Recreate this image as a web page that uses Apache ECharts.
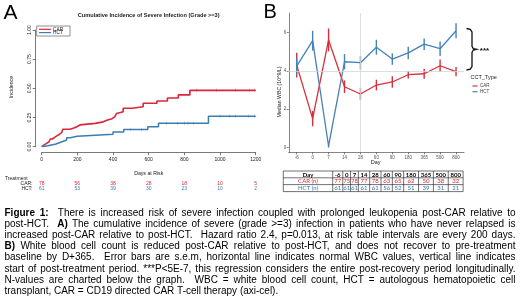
<!DOCTYPE html>
<html><head><meta charset="utf-8">
<script src="https://cdn.jsdelivr.net/npm/echarts@6/dist/echarts.min.js"></script>
<style>html,body{margin:0;padding:0;background:#fff}#c{width:520px;height:306px}</style>
</head><body><div id="c"></div>
<script>
// ---------- Panel A : cumulative incidence (step curves) ----------
const carTimes = [0,3,12,25,40,48,60,72,85,100,112,118,160,180,200,215,300,345,365,395,410,420,430,457,507,569,646,705,766,831,1200];
const carCI    = [0,0.013,0.026,0.04,0.053,0.066,0.08,0.093,0.107,0.12,0.133,0.15,0.16,0.173,0.187,0.2,0.213,0.227,0.24,0.257,0.27,0.285,0.3,0.33,0.343,0.372,0.392,0.417,0.444,0.483,0.483];
const hctTimes = [0,10,35,80,110,140,160,200,400,460,595,655,935,1200];
const hctCI    = [0,0.008,0.023,0.04,0.057,0.077,0.09,0.106,0.125,0.148,0.171,0.2,0.26,0.26];
const carCensor = [870,980,1085,1165,1192];
const hctCensor = [500,560,700,760,800,820,850,1000,1055,1085,1160,1195];
const riskTicks = [0,200,400,600,800,1000,1200];
const carAtRisk = [78,56,38,28,18,10,5];
const hctAtRisk = [61,53,39,30,23,10,2];
const titleA = 'Cumulative Incidence of Severe Infection (Grade >=3)';

// ---------- Panel B : median WBC ----------
const days   = ['-6','0','7','14','28','60','90','180','365','500','800'];
const carWBC = [4.3,1.5,5.62,3.17,2.79,3.26,3.42,3.8,3.85,4.27,3.96];
const carSEM = [0.65,0.4,0.6,0.33,0.3,0.28,0.3,0.2,0.26,0.32,0.24];
const hctWBC = [4.25,5.58,0.07,4.48,4.43,5.24,4.62,4.94,5.4,5.16,6.1];
const hctSEM = [0.43,0.52,0.08,0.4,0.35,0.39,0.3,0.33,0.3,0.38,0.39];
const carN   = [77,75,78,77,78,63,65,62,50,38,32];
const hctN   = [61,61,61,61,61,56,52,51,39,31,21];
const wbcTicks = [0,2,4,6];
const normalWBC = 4;
const startDay = '28';

// ---------- Caption ----------
const capLines = [
 "^Figure 1:^  There is increased risk of severe infection coupled with prolonged leukopenia post-CAR relative to",
 "post-HCT.  ^A)^ The cumulative incidence of severe (grade >=3) infection in patients who have never relapsed is",
 "increased post-CAR relative to post-HCT.  Hazard ratio 2.4, p=0.013, at risk table intervals are every 200 days.",
 "^B)^ White blood cell count is reduced post-CAR relative to post-HCT, and does not recover to pre-treatment",
 "baseline by D+365.  Error bars are s.e.m, horizontal line indicates normal WBC values, vertical line indicates",
 "start of post-treatment period. ***P<5E-7, this regression considers the entire post-recovery period longitudinally.",
 "N-values are charted below the graph.  WBC = white blood cell count, HCT = autologous hematopoietic cell",
 "transplant, CAR = CD19 directed CAR T-cell therapy (axi-cel)."
];

const RED_A='#d8263a', BLUE_A='#3b7db2';
const RED_B='#d5303c', BLUE_B='#4482b8';
const RED_T='#e0262f', BLUE_T='#2f78b8';
const FAM='Liberation Sans';

function stepAt(times, vals, t){ let v=0; for(let i=0;i<times.length;i++){ if(times[i]<=t) v=vals[i]; } return v; }
const plusSym = 'path://M-0.12,-1H0.12V1H-0.12Z M-1,-0.12H1V0.12H-1Z';

const chart = echarts.init(document.getElementById('c'), null, {renderer:'canvas', width:520, height:306});

const option = {
  animation:false,
  grid:[{left:41.7, top:30, width:214, height:116.7},{left:288.75, top:13, width:175.25, height:139.3}],
  xAxis:[
    {gridIndex:0,type:'value',min:0,max:1200,interval:200,offset:6,
     axisLine:{show:true,onZero:false,lineStyle:{color:'#222',width:0.6}},
     axisTick:{show:true,length:2.5,lineStyle:{color:'#222',width:0.6}},
     axisLabel:{fontSize:5,color:'#222',margin:4,fontFamily:FAM,showMinLabel:true,showMaxLabel:true,formatter:v=>String(v)},
     splitLine:{show:false}},
    {gridIndex:1,type:'category',data:days,boundaryGap:true,
     axisLine:{show:true,onZero:false,lineStyle:{color:'#333',width:0.6}},
     axisTick:{show:true,alignWithLabel:true,length:2,lineStyle:{color:'#333',width:0.6}},
     axisLabel:{fontSize:4.5,color:'#555',margin:3,interval:0,fontFamily:FAM},
     splitLine:{show:false}}
  ],
  yAxis:[
    {gridIndex:0,type:'value',min:0,max:1,interval:0.25,offset:6.5,
     axisLine:{show:true,onZero:false,lineStyle:{color:'#222',width:0.6}},
     axisTick:{show:true,length:2.5,lineStyle:{color:'#222',width:0.6}},
     axisLabel:{rotate:90,fontSize:5,color:'#222',margin:3,fontFamily:FAM,formatter:v=>v.toFixed(2)},
     splitLine:{show:false}},
    {gridIndex:1,type:'value',min:-0.26,max:7.03,
     axisLine:{show:true,onZero:false,lineStyle:{color:'#333',width:0.6}},
     axisTick:{show:true,length:2,customValues:wbcTicks,lineStyle:{color:'#333',width:0.6}},
     axisLabel:{fontSize:4.5,color:'#555',margin:2.5,fontFamily:FAM,customValues:wbcTicks},
     splitLine:{show:false}}
  ],
  series:[
    {type:'line',xAxisIndex:0,yAxisIndex:0,step:'end',symbol:'none',
     data:carTimes.map((t,i)=>[t,carCI[i]]),lineStyle:{color:RED_A,width:1.6}},
    {type:'line',xAxisIndex:0,yAxisIndex:0,step:'end',symbol:'none',
     data:hctTimes.map((t,i)=>[t,hctCI[i]]),lineStyle:{color:BLUE_A,width:1.5}},
    {type:'scatter',xAxisIndex:0,yAxisIndex:0,symbol:plusSym,symbolSize:3.5,
     itemStyle:{color:RED_A},data:carCensor.map(t=>[t,stepAt(carTimes,carCI,t)])},
    {type:'scatter',xAxisIndex:0,yAxisIndex:0,symbol:plusSym,symbolSize:3.5,
     itemStyle:{color:BLUE_A},data:hctCensor.map(t=>[t,stepAt(hctTimes,hctCI,t)])},
    {type:'line',xAxisIndex:1,yAxisIndex:1,symbol:'none',data:carWBC,z:3,
     lineStyle:{color:RED_B,width:1.3},
     markLine:{silent:true,symbol:['none','none'],label:{show:false},
       lineStyle:{color:'#d6d6d6',type:'solid',width:0.8},
       data:[{yAxis:normalWBC},{xAxis:days.indexOf(startDay)}]}},
    {type:'line',xAxisIndex:1,yAxisIndex:1,symbol:'none',data:hctWBC,z:3,
     lineStyle:{color:BLUE_B,width:1.3}},
    {type:'custom',xAxisIndex:1,yAxisIndex:1,z:4,
     data:days.map((d,i)=>[i,carWBC[i]-carSEM[i],carWBC[i]+carSEM[i]]),
     encode:{x:0,y:[1,2]},
     renderItem:(p,api)=>{const a=api.coord([api.value(0),api.value(1)]),b=api.coord([api.value(0),api.value(2)]);
       return {type:'line',shape:{x1:a[0],y1:a[1],x2:b[0],y2:b[1]},style:{stroke:RED_B,lineWidth:1.4}};}},
    {type:'custom',xAxisIndex:1,yAxisIndex:1,z:4,
     data:days.map((d,i)=>[i,hctWBC[i]-hctSEM[i],hctWBC[i]+hctSEM[i]]),
     encode:{x:0,y:[1,2]},
     renderItem:(p,api)=>{const a=api.coord([api.value(0),api.value(1)]),b=api.coord([api.value(0),api.value(2)]);
       return {type:'line',shape:{x1:a[0],y1:a[1],x2:b[0],y2:b[1]},style:{stroke:BLUE_B,lineWidth:1.4}};}}
  ]
};
chart.setOption(option);

// ---------- graphic overlays ----------
const g=[];
function T(text,x,y,o){o=o||{};g.push({type:'text',silent:true,x:x,y:y,rotation:o.rot||0,z:10,
  style:{text:String(text),x:0,y:0,fill:o.color||'#000',fontSize:o.size||6,fontFamily:o.family||FAM,
  fontWeight:o.bold?'bold':'normal',align:o.align||'center',verticalAlign:o.va||'middle'}});}
function L(x1,y1,x2,y2,c,w){g.push({type:'line',silent:true,z:10,shape:{x1,y1,x2,y2},style:{stroke:c||'#000',lineWidth:w||0.6}});}

// panel letters
T('A',3.5,13,{size:21,align:'left'});
T('B',263.5,12.5,{size:20,align:'left'});

// Panel A texts
const pxA = t=>chart.convertToPixel({xAxisIndex:0},t);
T(titleA,(pxA(0)+pxA(1200))/2,15.7,{size:5.6,bold:true,color:'#222'});
T('Incidence',11.7,87,{size:5.2,rot:Math.PI/2,color:'#222'});
T('Days at Risk',(pxA(0)+pxA(1200))/2,174,{size:5.2,color:'#222'});
T('Treatment',5,178.3,{size:5,align:'left',color:'#222'});
T('CAR:',32.5,183.5,{size:5,align:'right',color:'#222'});
T('HCT:',32.5,189,{size:5,align:'right',color:'#222'});
riskTicks.forEach((t,i)=>{T(carAtRisk[i],pxA(t),183.5,{size:5,color:RED_A});T(hctAtRisk[i],pxA(t),189,{size:5,color:BLUE_A});});
// legend A
g.push({type:'rect',silent:true,z:10,shape:{x:36.7,y:26,width:33.3,height:10},style:{fill:'#fff',stroke:'#222',lineWidth:0.5}});
L(39,29.3,51,29.3,RED_A,1.2); L(39,32.6,51,32.6,BLUE_A,1.2);
T('CAR',53,29.4,{size:4.8,align:'left',color:'#222'});
T('HCT',53,32.7,{size:4.8,align:'left',color:'#222'});

// Panel B texts
T('Median WBC (10^9/L)',279.5,92,{size:5.2,rot:Math.PI/2,color:'#222'});
T('Day',375.7,162.4,{size:5.5,color:'#222'});
T('CCT_Type',470.5,77.3,{size:5.5,align:'left',color:'#222'});
L(472.5,86,477.5,86,RED_B,1.2); L(472.5,91.7,477.5,91.7,BLUE_B,1.2);
T('CAR',480,86,{size:4.5,align:'left',color:'#444'});
T('HCT',480,91.7,{size:4.5,align:'left',color:'#444'});
g.push({type:'polyline',silent:true,z:10,shape:{points:[[466.5,28.5],[470.3,29.3],[472,32],[472,46.3],[473.3,48.6],[476.5,49.3],[473.3,50],[472,52.3],[472,66.5],[470.3,69.2],[466.5,70]]},
  style:{stroke:'#111',lineWidth:1.3,fill:null}});
T('***',484.5,50.3,{size:8,bold:true,color:'#111'});

// Table B
const ctx=document.createElement('canvas').getContext('2d');
const TF='Lato', TS=6;
ctx.font='bold '+TS+'px '+TF;
const tX0=283.3, tLabW=49.4, tX1=463.1, tY=[171,177.8,184.6,191.6];
const raw=days.map(d=>ctx.measureText(d).width+4.2);
const rs=raw.reduce((a,b)=>a+b,0);
const colX=[tX0+tLabW];
raw.forEach(w=>colX.push(colX[colX.length-1]+w*(tX1-tX0-tLabW)/rs));
tY.forEach(y=>L(tX0,y,tX1,y,'#111',0.6));
L(tX0,tY[0],tX0,tY[3],'#111',0.6);
colX.forEach(x=>L(x,tY[0],x,tY[3],'#111',0.6));
const rowC=[(tY[0]+tY[1])/2+0.2,(tY[1]+tY[2])/2+0.2,(tY[2]+tY[3])/2+0.2];
const labC=tX0+tLabW/2;
T('Day',labC,rowC[0],{size:TS,bold:true,family:TF});
T('CAR (n)',labC,rowC[1],{size:TS,color:RED_T,family:TF});
T('HCT (n)',labC,rowC[2],{size:TS,color:BLUE_T,family:TF});
days.forEach((d,i)=>{const cx=(colX[i]+colX[i+1])/2;
  T(d,cx,rowC[0],{size:TS,bold:true,family:TF});
  T(carN[i],cx,rowC[1],{size:TS,color:RED_T,family:TF});
  T(hctN[i],cx,rowC[2],{size:TS,color:BLUE_T,family:TF});});

// Caption (justified)
const capX0=4.5, capX1=515.5, capY0=213.3, capDY=11.1;
function parseLine(line){
  const words=[], gaps=[]; let pend=0;
  line.split('^').forEach((seg,si)=>{
    const bold = si%2===1;
    seg.split(/( +)/).forEach(tok=>{
      if(tok==='') return;
      if(/^ +$/.test(tok)){pend+=tok.length;return;}
      if(words.length) gaps.push(pend);
      pend=0; words.push({t:tok,b:bold});
    });
  });
  return {words,gaps};
}
const parsed=capLines.map(parseLine);
function natWidth(p,size){
  let w=0;
  p.words.forEach(x=>{ctx.font=(x.b?'bold ':'')+size+'px "'+FAM+'"';w+=ctx.measureText(x.t).width;});
  ctx.font=size+'px "'+FAM+'"';
  const sp=ctx.measureText(' ').width;
  return w+p.gaps.reduce((a,b)=>a+b,0)*sp;
}
let maxNat=0; parsed.forEach(p=>{maxNat=Math.max(maxNat,natWidth(p,10));});
const capSize=Math.min(10,10*(capX1-capX0)/maxNat*0.995);
parsed.forEach((p,li)=>{
  const ws=p.words.map(w=>{ctx.font=(w.b?'bold ':'')+capSize+'px "'+FAM+'"';return ctx.measureText(w.t).width;});
  const W=ws.reduce((a,b)=>a+b,0);
  const S=p.gaps.reduce((a,b)=>a+b,0);
  ctx.font=capSize+'px "'+FAM+'"';
  let sp=ctx.measureText(' ').width;
  if(li<parsed.length-1 && S>0) sp=(capX1-capX0-W)/S;
  let x=capX0; const y=capY0+li*capDY;
  p.words.forEach((w,i)=>{T(w.t,x,y,{size:capSize,bold:w.b,align:'left'}); x+=ws[i]+(i<p.gaps.length?p.gaps[i]*sp:0);});
});

chart.setOption({graphic:{elements:g}});
</script></body></html>
